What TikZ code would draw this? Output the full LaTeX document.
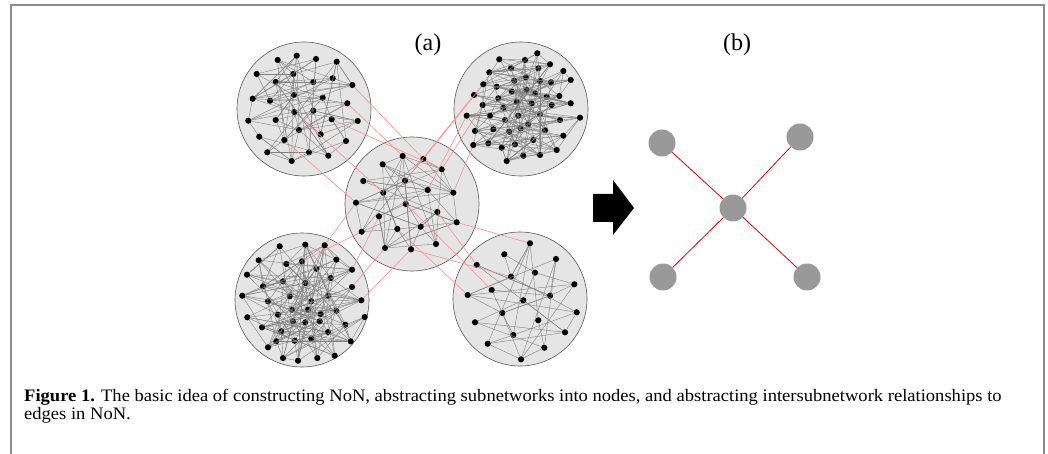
\documentclass[tikz,border=0pt]{standalone}
\usepackage{fontspec}
\setmainfont{Liberation Serif}
\usetikzlibrary{positioning}

\tikzset{
  subnet/.style = {circle, draw=black!65, fill=black!10, line width=0.6pt, minimum size=134pt, inner sep=0pt},
  dot/.style    = {circle, fill=black, minimum size=6.2pt, inner sep=0pt},
  link/.style   = {draw=black!50, line width=0.4pt},
  bridge/.style = {draw=red!45, line width=0.6pt},
  hub/.style    = {circle, fill=black!40, minimum size=27pt, inner sep=0pt},
  tie/.style    = {draw=red!90!black, line width=0.8pt},
  panel/.style  = {font=\fontsize{24}{28}\selectfont},
  capline/.style = {anchor=base west, inner sep=0pt, font=\fontsize{17.5}{20}\selectfont}
}

\begin{document}
\begin{tikzpicture}[x=1pt, y=-1pt]

    % page and frame
    \useasboundingbox[fill=white] (0,0) rectangle (1048,454);
    \draw[black!45, line width=2pt] (11,470) -- (11,5) -- (1044,5) -- (1044,470);

    % (a) five subnetworks
    \node[subnet] (tl) at (304,109) {};
    \node[subnet] (tr) at (521,109) {};
    \node[subnet] (c)  at (412,204) {};
    \node[subnet] (bl) at (302,300) {};
    \node[subnet] (br) at (520,299) {};

    \foreach \p [count=\i] in {(277.7,60),(296.7,55.7),(316,59),(336.7,61.7),(256.7,74),(275.7,82),
        (293.3,74),(313.3,82),(332.7,78.3),(352.3,85),(252.7,98.7),(270,100.7),(294,95),(322.7,97.7),
        (347.3,103.3),(248.3,120.7),(275.7,120),(294.3,112),(313.3,110.7),(331.7,119.3),(357.7,121),
        (259.3,136.7),(284.3,140),(299,130),(320.7,134.3),(346,141),(267.3,152.3),(291.7,161),
        (309,152.3),(328.3,155.7)}
        \node[dot] (tl-\i) at \p {};

    \foreach \p [count=\i] in {(402.7,156),(423.3,159),(382.7,164.3),(441.7,169.3),(363.3,181),
        (405,180.7),(427.7,190),(453.3,192.7),(383.3,192.7),(356,202.7),(405.7,204),(437.3,212),
        (379,216.3),(456.7,222.3),(361.7,231.7),(397.3,229),(420.7,226.7),(385,248),(411,249.3),(436,244)}
        \node[dot] (c-\i) at \p {};

    \foreach \p [count=\i] in {(530,243.3),(504.3,254.3),(556,259),(476.7,265),(535,272.7),(511,276.7),
        (574.3,284.3),(491.7,290),(467.7,295),(550,295.7),(523.3,300.3),(576.7,312.3),(502.3,313),
        (475,322.3),(538.3,320.3),(513.3,335),(565,332.3),(487.7,343.7),(544.3,347.7),(521,359.3)}
        \node[dot] (br-\i) at \p {};

    \foreach \p [count=\i] in {(537.3,53.3),(499.3,59.3),(525,60),(550,64.3),(511,68.3),(538.3,68.3),
        (489.3,72.3),(563.3,71),(526,77.3),(514.3,80.7),(540,81),(551,82.3),(570.7,80),(483.3,84.3),
        (496.7,86.7),(526.7,90),(511.7,91.7),(535,93.3),(546.7,96.7),(559.3,96),(474,95),(498.3,98.3),
        (516.7,101.7),(531.7,103.3),(551.7,105),(570.7,103.3),(482.7,105),(503.3,107.7),(490,115.7),
        (518.3,115.7),(540,114.3),(466.7,115.7),(560,120),(580,117.7),(505,120),(528.3,124.3),
        (475,131),(493.3,129.3),(509.3,131.7),(520.7,128.3),(545,130.3),(563.3,135.7),(533.3,140),
        (473.3,145),(488.3,143.3),(501.7,147.7),(515,144.3),(556.7,150),(506.7,161),(523.3,155.7),(540,155)}
        \node[dot] (tr-\i) at \p {};

    \foreach \p [count=\i] in {(279.7,246.3),(305.3,244.7),(324.7,245.3),(258.7,260.3),(286.3,264),
        (302,261.3),(336.3,259.7),(316.3,268.7),(352,269.7),(247,274.7),(283,281.3),(305.3,283),
        (330.7,278),(263,286.3),(352,287),(289.7,296.3),(311.3,301.3),(328,295.7),(242.3,295.7),
        (268,301.3),(361.3,300.3),(278,314.7),(292,309.7),(308,309.7),(320.7,314),(336.3,310.7),
        (364.7,317),(247.3,317.3),(262,327.3),(281.3,331.3),(305.3,322.3),(319.7,321.3),(345.3,324.7),
        (294.7,340.7),(311.3,338.7),(328,332),(350.7,341.3),(268,347.3),(283,358),(298,360.7),
        (317.3,358),(334.7,355.7),(276.3,341.3),(293,321.3)}
        \node[dot] (bl-\i) at \p {};

    % links inside each subnetwork (name/count/links per dot/reach)
    \pgfmathsetseed{4711}
    \foreach \net/\n/\m/\r in {tl/30/3/9, c/20/3/7, br/20/2/7, tr/51/4/14, bl/44/4/13}
      \foreach \i in {1,...,\n}
        \foreach \k in {1,...,\m} {
          \pgfmathrandominteger{\d}{1}{\r}
          \pgfmathtruncatemacro{\j}{mod(\i+\d-1,\n)+1}
          \draw[link] (\net-\i) -- (\net-\j);
        }

    % links between subnetworks
    \foreach \a/\b in {tl-15/c-1, tl-20/c-4, tl-18/c-9, tl-23/c-10, tl-10/c-2,
                       c-7/tr-32, c-6/tr-21, c-4/tr-27, c-8/tr-44, c-2/tr-14,
                       c-15/bl-6, c-18/bl-15, c-13/bl-9, c-10/bl-3, c-19/bl-21,
                       c-14/br-1, c-16/br-9, c-11/br-8, c-12/br-4, c-19/br-6}
        \draw[bridge] (\a) -- (\b);

    \node[panel] (la) at (428,45) {(a)};

    % arrow
    \fill[black] (593,194) -- (613,194) -- (613,180) -- (634,208) -- (613,235) -- (613,222) -- (593,222) -- cycle;

    % (b) the network of networks
    \node[panel] (lb) at (737,45) {(b)};
    \node[hub] (n0) at (733,208) {};
    \node[hub] (n1) at (662,143) {};
    \node[hub] (n2) at (800,137) {};
    \node[hub] (n3) at (663,277) {};
    \node[hub] (n4) at (807,277) {};
    \foreach \k in {1,...,4}
        \draw[tie] (n0) -- (n\k);

    % caption
    \node[capline] (cap1) at (24,401) {\scalebox{1.06}[1]{\textbf{Figure 1.} The basic idea of constructing NoN, abstracting subnetworks into nodes, and abstracting intersubnetwork relationships to}};
    \node[capline] (cap2) at (24,419) {\scalebox{1.06}[1]{edges in NoN.}};

\end{tikzpicture}
\end{document}
